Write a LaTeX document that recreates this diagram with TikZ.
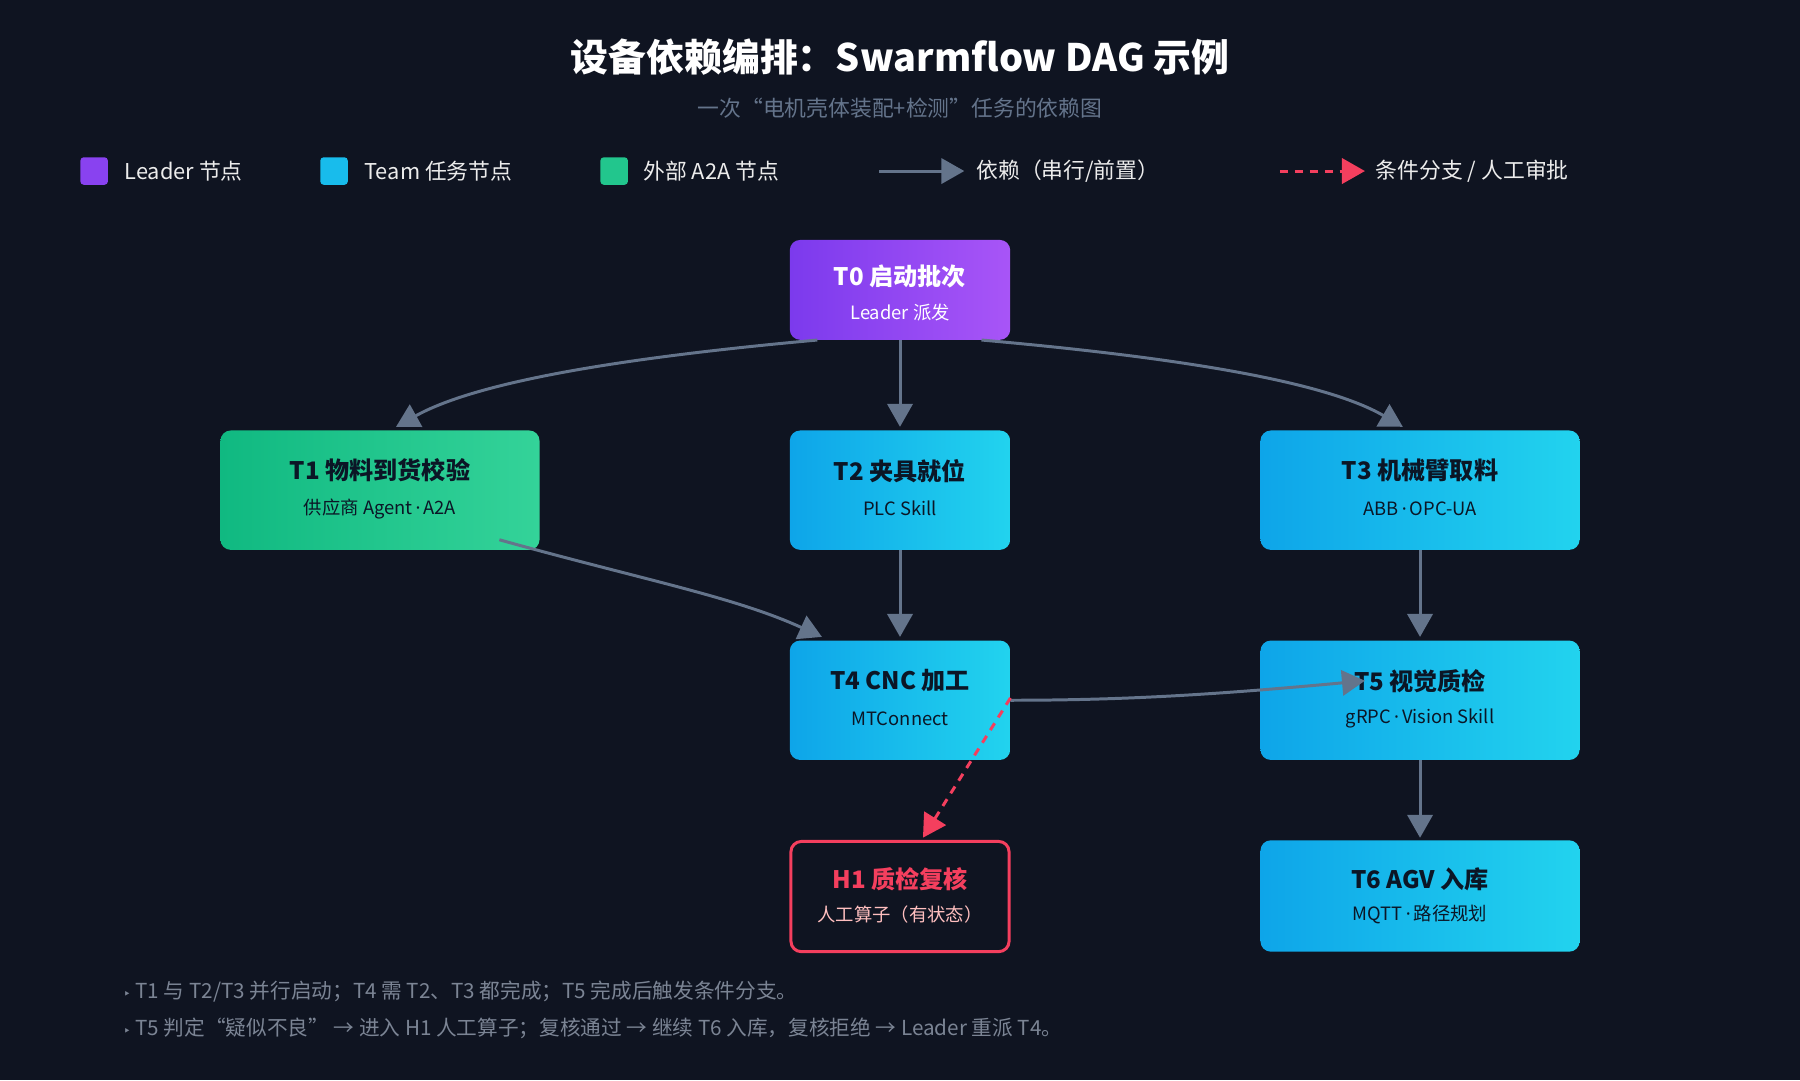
\documentclass[tikz,border=0pt]{standalone}
\usepackage{fontspec}
\setmainfont{Noto Sans CJK SC}
\newfontfamily\symfont{DejaVu Sans}
\newfontfamily\latfont{Noto Sans}
\newcommand{\md}{{\latfont\,·\,}}
\newcommand{\tri}{{\symfont\fontsize{11}{12}\selectfont ‣}}
\usetikzlibrary{arrows.meta}
\definecolor{bgdark}{HTML}{0F1421}
\definecolor{edgegray}{HTML}{64748B}
\definecolor{hred}{HTML}{F43F5E}
\definecolor{subgray}{HTML}{64748B}
\definecolor{notegray}{HTML}{7B8494}
\definecolor{inkdark}{HTML}{0B1626}
\definecolor{leadera}{HTML}{7C3AED}
\definecolor{leaderb}{HTML}{A855F7}
\definecolor{teama}{HTML}{0EA5E9}
\definecolor{teamb}{HTML}{22D3EE}
\definecolor{exta}{HTML}{10B981}
\definecolor{extb}{HTML}{34D399}
\tikzset{
	box/.style={rounded corners=9pt, minimum width=192pt, minimum height=104pt, inner sep=0pt},
	leaderbox/.style={box, left color=leadera, right color=leaderb},
	teambox/.style={box, left color=teama, right color=teamb},
	extbox/.style={box, left color=exta, right color=extb},
	dep/.style={draw=edgegray, line width=2.6pt, -{Triangle[length=20pt,width=22pt]}},
	cond/.style={draw=hred, line width=2.6pt, dash pattern=on 7pt off 6pt, -{Triangle[length=20pt,width=22pt]}},
	ttl/.style={font=\bfseries\fontsize{21}{24}\selectfont, text=inkdark},
	sub/.style={font=\fontsize{16}{19}\selectfont, text=inkdark},
	legend/.style={anchor=west, text=white!85!gray, font=\fontsize{19}{22}\selectfont},
	note/.style={anchor=west, text=notegray, font=\fontsize{18}{21}\selectfont},
}
\begin{document}
\begin{tikzpicture}[x=1pt,y=1pt,yscale=-1,xscale=1]
	\fill[bgdark] (0,0) rectangle (1568,941);
	\useasboundingbox (0,0) rectangle (1568,941);

	% Title
	\node (title) at (784,50) {\color{white}\bfseries\fontsize{33}{38}\selectfont 设备依赖编排：Swarmflow DAG 示例};
	\node (subtitle) at (784,94) {\color{subgray}\fontsize{19}{22}\selectfont 一次“电机壳体装配+检测”任务的依赖图};

	% Legend
	\fill[leadera!70!leaderb, rounded corners=3pt] (70,137) rectangle (94,161);
	\node[legend] (lgleader) at (105,149) {Leader 节点};
	\fill[teama!50!teamb, rounded corners=3pt] (279,137) rectangle (303,161);
	\node[legend] (lgteam) at (314,149) {Team 任务节点};
	\fill[exta!50!extb, rounded corners=3pt] (523,137) rectangle (547,161);
	\node[legend] (lgext) at (557,149) {外部 A2A 节点};
	\coordinate (ldepa) at (766,149);
	\coordinate (ldepb) at (840,149);
	\draw[dep] (ldepa) -- (ldepb);
	\node[legend] (lgdep) at (847,149) {依赖（串行/前置）};
	\coordinate (lconda) at (1115,149);
	\coordinate (lcondb) at (1189,149);
	\draw[cond] (lconda) -- (lcondb);
	\node[legend] (lgcond) at (1195,149) {条件分支 / 人工审批};

	% Nodes
	\node[leaderbox, minimum height=87pt] (t0) at (784,252.5) {};
	\node[ttl, text=white] at (784,241) {T0 启动批次};
	\node[sub, text=white] at (784,272) {Leader 派发};

	\node[extbox, minimum width=278pt] (t1) at (331,427) {};
	\node[ttl] at (331,410) {T1 物料到货校验};
	\node[sub] at (331,443) {供应商 Agent\md A2A};

	\node[teambox] (t2) at (784,427) {};
	\node[ttl] at (784,410) {T2 夹具就位};
	\node[sub] at (784,443) {PLC Skill};

	\node[teambox, minimum width=278pt] (t3) at (1237,427) {};
	\node[ttl] at (1237,410) {T3 机械臂取料};
	\node[sub] at (1237,443) {ABB\md OPC-UA};

	\node[teambox] (t4) at (784,610) {};
	\node[ttl] at (784,593) {T4 CNC 加工};
	\node[sub] at (784,626) {MTConnect};

	\node[teambox, minimum width=278pt] (t5) at (1237,610) {};
	\node[ttl] at (1237,593) {T5 视觉质检};
	\node[sub] at (1237,626) {gRPC\md Vision Skill};

	\node[box, fill=bgdark, draw=hred, line width=2.6pt, minimum width=190pt, minimum height=96pt] (h1) at (784,781) {};
	\node[ttl, text=hred] at (784,766) {H1 质检复核};
	\node[sub, text=red!25!white] at (784,797) {人工算子（有状态）};

	\node[teambox, minimum width=278pt, minimum height=97pt] (t6) at (1237,780.5) {};
	\node[ttl] at (1237,766) {T6 AGV 入库};
	\node[sub] at (1237,797) {MQTT\md 路径规划};

	% Edges
	\draw[dep] ([xshift=-72pt]t0.south) .. controls (560,310) and (420,330) .. ([xshift=-439pt,yshift=-3pt]t2.north);
	\draw[dep] (t0.south) -- ([yshift=-3pt]t2.north);
	\draw[dep] ([xshift=71pt]t0.south) .. controls (1010,310) and (1150,330) .. ([xshift=-15pt,yshift=-3pt]t3.north);
	\draw[dep] ([xshift=104pt,yshift=-9pt]t1.south) .. controls (560,505) and (640,520) .. ([xshift=-68pt,yshift=-3pt]t4.north);
	\draw[dep] (t2.south) -- ([yshift=-3pt]t4.north);
	\draw[dep] (t3.south) -- ([yshift=-3pt]t5.north);
	\draw[dep] (t4.east) .. controls (980,610) and (1060,605) .. ([xshift=-48pt,yshift=-17pt]t5.center);
	\draw[cond] ([yshift=-2pt]t4.east) -- ([xshift=20pt,yshift=-2pt]h1.north);
	\draw[dep] (t5.south) -- ([yshift=-2pt]t6.north);

	% Notes
	\node[note] (note1) at (104,864) {\tri\ T1 与 T2/T3 并行启动；T4 需 T2、T3 都完成；T5 完成后触发条件分支。};
	\node[note] (note2) at (104,896) {\tri\ T5 判定“疑似不良” → 进入 H1 人工算子；复核通过 → 继续 T6 入库，复核拒绝 → Leader 重派 T4。};
\end{tikzpicture}
\end{document}
